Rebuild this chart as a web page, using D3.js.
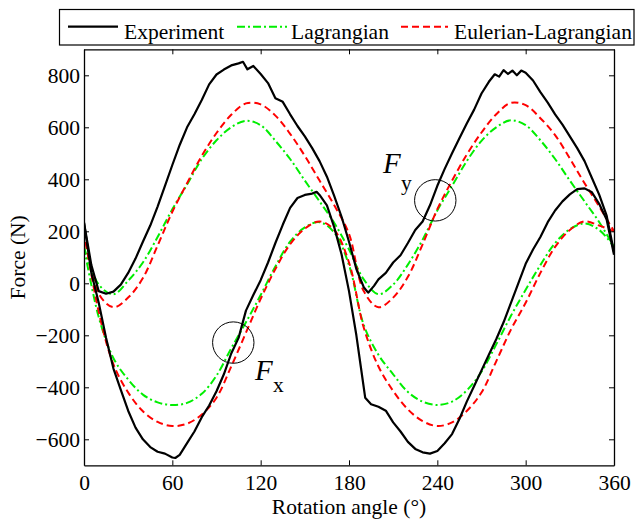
<!DOCTYPE html>
<html><head><meta charset="utf-8">
<script src="https://cdn.jsdelivr.net/npm/d3@7"></script>
<style>
body{margin:0;background:#fff;}
svg{display:block;font-family:"Liberation Serif","Times New Roman",serif;}
</style></head>
<body><svg id="c" width="635" height="522"></svg>
<script>
// ---- data ----
const modelAngles = [0,10,20,30,40,50,60,70,80,90,100,110,120,130,140,150,160,170,180,190,200,210,220,230,240,250,260,270,280,290,300,310,320,330,340,350,360];
const fyLagrangian = [140,-5,-42,10,80,178,285,380,478,550,600,625,608,548,478,395,315,232,130,15,-42,-5,72,168,280,375,470,548,600,627,608,550,478,395,315,235,140];
const fxLagrangian = [140,-130,-288,-370,-428,-458,-468,-460,-425,-355,-250,-150,-45,65,160,215,235,195,70,-160,-275,-350,-418,-455,-468,-455,-412,-340,-235,-125,-25,70,155,208,230,205,140];
const fyEulerian = [200,-40,-92,-55,20,145,275,385,490,578,648,692,688,645,575,490,395,300,190,-30,-92,-55,25,150,285,395,495,580,650,694,685,635,570,480,385,295,200];
const fxEulerian = [200,-110,-312,-420,-492,-533,-549,-540,-505,-440,-320,-190,-60,55,150,210,238,205,80,-170,-320,-414,-485,-530,-549,-535,-491,-420,-300,-178,-75,40,140,205,238,222,200];

const fyExpAngles = [0,5,10,15,20,25,30,35,40,45,50,55,60,65,70,75,80,85,90,95,100,105,108,111,115,120,125,130,135,140,145,150,155,160,165,170,175,180,185,190,193,197,200,205,210,215,220,225,230,235,240,245,250,255,260,265,270,275,279,282,285,288,291,294,297,300,305,310,315,320,325,330,335,340,345,350,355,360];
const fyExperiment = [233,70,-30,-40,-32,-5,40,95,160,222,295,375,455,532,600,650,705,765,803,822,838,846,852,823,836,805,770,712,698,650,605,565,520,470,410,335,255,160,55,-15,-36,-10,15,40,80,108,155,205,238,300,375,440,500,558,615,668,730,775,804,795,820,805,818,800,818,810,780,735,695,650,610,565,520,470,405,340,260,120];

const fxExpAngles = [0,5,10,15,20,25,30,35,40,45,50,55,60,62,65,70,75,80,85,90,95,100,105,110,115,120,125,130,135,140,145,150,155,158,160,165,170,175,180,185,188,191,195,200,205,210,215,220,225,230,235,240,245,250,255,260,265,270,275,280,285,290,295,300,305,310,315,320,325,330,335,340,345,350,355,360];
const fxExperiment = [233,40,-75,-210,-328,-410,-490,-555,-600,-630,-648,-655,-670,-672,-660,-615,-570,-515,-470,-415,-350,-270,-210,-105,-45,12,80,155,225,290,328,340,345,352,340,300,215,110,-30,-200,-320,-440,-465,-475,-490,-535,-570,-610,-637,-650,-655,-645,-615,-580,-522,-455,-395,-335,-275,-215,-150,-75,0,75,130,178,235,280,315,342,362,365,350,305,245,110];

const xTicks = [0,60,120,180,240,300,360];
const yTicks = [-600,-400,-200,0,200,400,600,800];
const seriesNames = ["Experiment","Lagrangian","Eulerian-Lagrangian"];
// annotation circles (angle, force) and labels
const circles = [{a:238.6,v:319,label:"y"},{a:101.4,v:-228,label:"x"}];

// ---- layout ----
const svg = d3.select("#c");
const L=84, R=614, T=49.3, B=465.3;
const x = d3.scaleLinear().domain([0,360]).range([L,R]);
const y = d3.scaleLinear().domain([-700,900]).range([B,T]);
const FS = 21.5;

svg.append("clipPath").attr("id","clip").append("rect")
  .attr("x",L).attr("y",T).attr("width",R-L).attr("height",B-T);

const g = svg.append("g").attr("clip-path","url(#clip)");
const lineGen = d3.line().curve(d3.curveCatmullRom.alpha(0.5));
function draw(angles, vals, color, dash, w){
  const pts = angles.map((a,i)=>[x(a), y(vals[i])]);
  g.append("path").attr("d", lineGen(pts)).attr("fill","none")
   .attr("stroke",color).attr("stroke-width",w)
   .attr("stroke-dasharray",dash).attr("stroke-linejoin","round");
}
const GREEN="#00ee00", RED="#ff0000";
const DASH_L="8,3,2,3", DASH_E="7,4";
draw(modelAngles, fyLagrangian, GREEN, DASH_L, 2);
draw(modelAngles, fxLagrangian, GREEN, DASH_L, 2);
draw(modelAngles, fyEulerian, RED, DASH_E, 2);
draw(modelAngles, fxEulerian, RED, DASH_E, 2);
const expLine = d3.line();
g.append("path").attr("d", expLine(fyExpAngles.map((a,i)=>[x(a),y(fyExperiment[i])])))
  .attr("fill","none").attr("stroke","#000").attr("stroke-width",2.2).attr("stroke-linejoin","round");
g.append("path").attr("d", expLine(fxExpAngles.map((a,i)=>[x(a),y(fxExperiment[i])])))
  .attr("fill","none").attr("stroke","#000").attr("stroke-width",2.2).attr("stroke-linejoin","round");

// ---- axes ----
function styleAxis(sel){
  sel.selectAll("path").attr("stroke","#000").attr("stroke-width",1.3);
  sel.selectAll("line").attr("stroke","#000").attr("stroke-width",1);
  sel.selectAll("text").attr("font-family",'"Liberation Serif",serif').attr("font-size",FS).attr("fill","#000");
}
const ax = svg.append("g").attr("transform",`translate(0,${B})`)
  .call(d3.axisBottom(x).tickValues(xTicks).tickSizeInner(-5).tickSizeOuter(0).tickPadding(0));
styleAxis(ax);
ax.selectAll("text").attr("dy",null).attr("y",24.7);
const ay = svg.append("g").attr("transform",`translate(${L},0)`)
  .call(d3.axisLeft(y).tickValues(yTicks).tickSizeInner(-5).tickSizeOuter(0).tickPadding(4));
styleAxis(ay);
const at = svg.append("g").attr("transform",`translate(0,${T})`)
  .call(d3.axisTop(x).tickValues(xTicks).tickSizeInner(-5).tickSizeOuter(0).tickFormat(""));
styleAxis(at);
const ar = svg.append("g").attr("transform",`translate(${R},0)`)
  .call(d3.axisRight(y).tickValues(yTicks).tickSizeInner(-5).tickSizeOuter(0).tickFormat(""));
styleAxis(ar);

svg.append("text").attr("x",(L+R)/2).attr("y",514).attr("text-anchor","middle")
  .attr("font-size",FS).text("Rotation angle (°)");
svg.append("text").attr("transform",`translate(25,${(T+B)/2}) rotate(-90)`)
  .attr("text-anchor","middle").attr("font-size",FS).text("Force (N)");

// ---- annotations ----
circles.forEach(c=>{
  svg.append("circle").attr("cx",x(c.a)).attr("cy",y(c.v)).attr("r",20.7)
    .attr("fill","none").attr("stroke","#000").attr("stroke-width",1);
});
const fy = svg.append("text").attr("x",383).attr("y",173);
fy.append("tspan").attr("font-style","italic").attr("font-size",29).text("F");
svg.append("text").attr("x",401).attr("y",190).attr("font-size",FS).text("y");
const fx = svg.append("text").attr("x",255).attr("y",380);
fx.append("tspan").attr("font-style","italic").attr("font-size",29).text("F");
svg.append("text").attr("x",273).attr("y",392).attr("font-size",FS).text("x");

// ---- legend ----
svg.append("rect").attr("x",59.5).attr("y",9.5).attr("width",574.5).attr("height",35.5)
  .attr("fill","#fff").attr("stroke","#000").attr("stroke-width",1.2);
const leg = [
  {x1:68,x2:118,tx:124,color:"#000",dash:null,w:2.2},
  {x1:237,x2:287,tx:291,color:GREEN,dash:DASH_L,w:2},
  {x1:401,x2:448,tx:454,color:RED,dash:DASH_E,w:2}
];
leg.forEach((d,i)=>{
  svg.append("line").attr("x1",d.x1).attr("x2",d.x2).attr("y1",26.7).attr("y2",26.7)
    .attr("stroke",d.color).attr("stroke-width",d.w).attr("stroke-dasharray",d.dash);
  svg.append("text").attr("x",d.tx).attr("y",39).attr("font-size",FS).text(seriesNames[i]);
});
</script></body></html>
